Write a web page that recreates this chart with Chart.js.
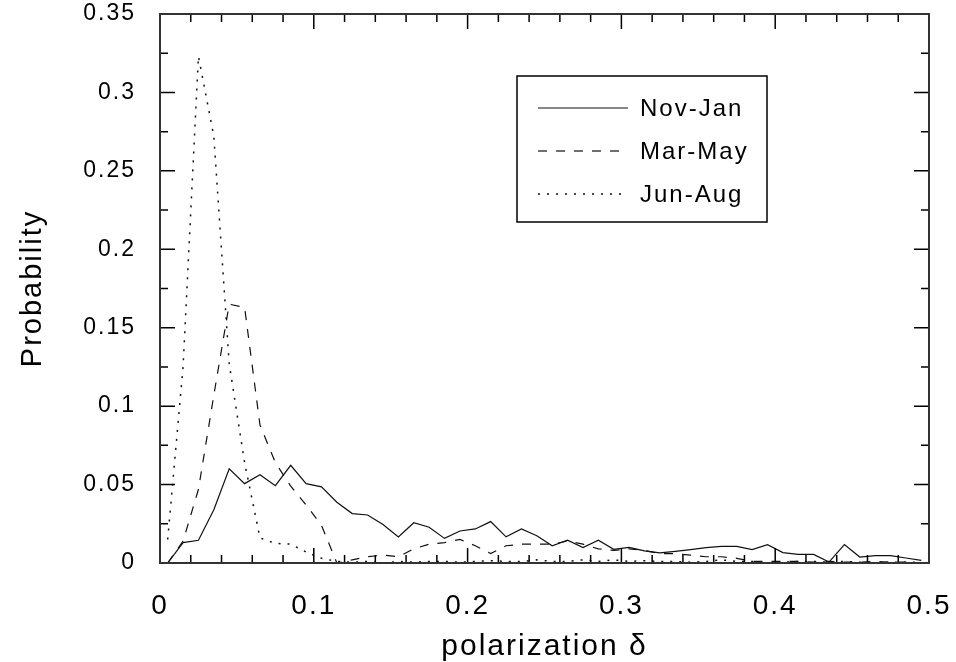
<!DOCTYPE html>
<html>
<head>
<meta charset="utf-8">
<script src="https://cdn.jsdelivr.net/npm/chart.js@4.4.0/dist/chart.umd.min.js"></script>
<style>
  html, body { margin: 0; padding: 0; background: #fff; }
</style>
</head>
<body>
<canvas id="chart" width="956" height="662"></canvas>
<script>
// bin centres of the polarization histogram
const binCenters = [
  0.005, 0.015, 0.025, 0.035, 0.045, 0.055, 0.065, 0.075, 0.085, 0.095,
  0.105, 0.115, 0.125, 0.135, 0.145, 0.155, 0.165, 0.175, 0.185, 0.195,
  0.205, 0.215, 0.225, 0.235, 0.245, 0.255, 0.265, 0.275, 0.285, 0.295,
  0.305, 0.315, 0.325, 0.335, 0.345, 0.355, 0.365, 0.375, 0.385, 0.395,
  0.405, 0.415, 0.425, 0.435, 0.445, 0.455, 0.465, 0.475, 0.485, 0.495
];

const novJan = [
  0, 0.013, 0.0145, 0.034, 0.060, 0.0506, 0.0563, 0.0493, 0.0623, 0.0506,
  0.0485, 0.0387, 0.0315, 0.0306, 0.0245, 0.0166, 0.0257, 0.0228, 0.0157, 0.0204,
  0.0217, 0.0264, 0.0167, 0.0217, 0.0174, 0.011, 0.0145, 0.0098, 0.0145, 0.0087,
  0.010, 0.0077, 0.0064, 0.0074, 0.0085, 0.0098, 0.0106, 0.0106, 0.0085, 0.0117,
  0.0066, 0.0055, 0.0055, 0.0006, 0.0117, 0.0038, 0.0047, 0.0047, 0.0032, 0.0017
];

const marMay = [
  0, 0.014, 0.047, 0.107, 0.165, 0.163, 0.088, 0.064, 0.049, 0.037,
  0.024, 0, 0.002, 0.004, 0.005, 0.004, 0.009, 0.012, 0.013, 0.015,
  0.011, 0.006, 0.011, 0.012, 0.012, 0.012, 0.014, 0.012, 0.009, 0.008,
  0.009, 0.008, 0.006, 0.006, 0.005, 0.004, 0.004, 0.003, 0.001, 0.001,
  0.001, 0.001, 0.0005, 0.001, 0.0005, 0.0005, 0.001, 0.0005, 0.0005, 0
];

const junAug = [
  0.015, 0.125, 0.323, 0.272, 0.127, 0.064, 0.016, 0.0125, 0.012, 0.007,
  0.003, 0.001, 0.0005, 0.001, 0, 0.001, 0.0005, 0.001, 0.001, 0.0005,
  0.001, 0.0015, 0.001, 0.001, 0.002, 0.001, 0.001, 0.002, 0.001, 0.002,
  0.001, 0.0015, 0.001, 0.001, 0.0005, 0.001, 0.002, 0.001, 0.001, 0,
  0.0005, 0.001, 0.001, 0.0005, 0.001, 0.0005, 0, 0.0005, 0.0005, 0.0005
];

const seriesLabels = ['Nov-Jan', 'Mar-May', 'Jun-Aug'];

// tick positions (labels every 0.1 / 0.05, small ticks in between)
const xTicks = [0, 0.02, 0.04, 0.06, 0.08, 0.1, 0.12, 0.14, 0.16, 0.18, 0.2, 0.22, 0.24, 0.26,
  0.28, 0.3, 0.32, 0.34, 0.36, 0.38, 0.4, 0.42, 0.44, 0.46, 0.48, 0.5];
const yTicks = [0, 0.025, 0.05, 0.075, 0.1, 0.125, 0.15, 0.175, 0.2, 0.225, 0.25, 0.275,
  0.3, 0.325, 0.35];

const FONT = "'Liberation Sans', Arial, sans-serif";
const INK = '#111';

function toPoints(values) {
  return binCenters.map((x, i) => ({ x, y: values[i] }));
}

function isMajor(v, step) {
  const r = v / step;
  return Math.abs(r - Math.round(r)) < 1e-6;
}

// Frame and inward ticks on all four sides
const frameTicks = {
  id: 'frameTicks',
  afterDatasetsDraw(chart) {
    const { ctx, chartArea: a, scales: { x, y } } = chart;
    ctx.save();
    ctx.strokeStyle = '#000';
    ctx.lineWidth = 1.5;
    ctx.beginPath();
    xTicks.forEach(v => {
      const px = x.getPixelForValue(v);
      const len = isMajor(v, 0.1) ? 15 : 8;
      ctx.moveTo(px, a.bottom); ctx.lineTo(px, a.bottom - len);
      ctx.moveTo(px, a.top); ctx.lineTo(px, a.top + len);
    });
    yTicks.forEach(v => {
      const py = y.getPixelForValue(v);
      const len = isMajor(v, 0.05) ? 15 : 8;
      ctx.moveTo(a.left, py); ctx.lineTo(a.left + len, py);
      ctx.moveTo(a.right, py); ctx.lineTo(a.right - len, py);
    });
    ctx.stroke();
    ctx.strokeStyle = '#333';
    ctx.lineWidth = 2;
    ctx.strokeRect(a.left, a.top, a.right - a.left, a.bottom - a.top);
    ctx.restore();
  }
};

// Boxed legend with line samples, upper right of the plot
const boxLegend = {
  id: 'boxLegend',
  afterDraw(chart) {
    const { ctx, chartArea: a } = chart;
    const bx = a.left + 357, by = a.top + 62, bw = 250, bh = 146;
    ctx.save();
    ctx.fillStyle = '#fff';
    ctx.fillRect(bx, by, bw, bh);
    ctx.strokeStyle = '#000';
    ctx.lineWidth = 1.5;
    ctx.strokeRect(bx, by, bw, bh);
    ctx.font = '24px ' + FONT;
    ctx.letterSpacing = '2px';
    ctx.textBaseline = 'middle';
    ctx.fillStyle = '#000';
    chart.data.datasets.forEach((ds, i) => {
      const ry = by + 32 + i * 43;
      ctx.beginPath();
      ctx.setLineDash(ds.borderDash || []);
      ctx.lineWidth = ds.borderWidth;
      ctx.strokeStyle = ds.borderColor;
      ctx.moveTo(bx + 21, ry);
      ctx.lineTo(bx + 111, ry);
      ctx.stroke();
      ctx.setLineDash([]);
      ctx.fillText(ds.label, bx + 123, ry + 1);
    });
    ctx.restore();
  }
};

// wider letter spacing for the axis texts, as in the original figure
const spacing = {
  id: 'spacing',
  beforeDraw(chart) { chart.ctx.letterSpacing = '2px'; }
};

new Chart(document.getElementById('chart'), {
  type: 'line',
  data: {
    datasets: [
      {
        label: seriesLabels[0],
        data: toPoints(novJan),
        borderColor: INK,
        borderWidth: 1.2,
        pointRadius: 0,
        tension: 0,
      },
      {
        label: seriesLabels[1],
        data: toPoints(marMay),
        borderColor: INK,
        borderWidth: 1.2,
        borderDash: [9, 9],
        pointRadius: 0,
        tension: 0,
      },
      {
        label: seriesLabels[2],
        data: toPoints(junAug),
        borderColor: INK,
        borderWidth: 1.5,
        borderDash: [2, 7],
        pointRadius: 0,
        tension: 0,
      },
    ],
  },
  options: {
    responsive: false,
    animation: false,
    layout: { padding: { top: 14, right: 27, bottom: 0, left: 0 } },
    plugins: {
      legend: { display: false },
      tooltip: { enabled: false },
    },
    scales: {
      x: {
        type: 'linear',
        min: 0,
        max: 0.5,
        grid: { display: false, drawTicks: false },
        border: { display: false },
        ticks: {
          stepSize: 0.1,
          padding: 26,
          color: '#000',
          font: { family: FONT, size: 28 },
          callback: v => String(Number(v.toFixed(2))),
        },
        title: {
          display: true,
          text: 'polarization δ',
          color: '#000',
          font: { family: FONT, size: 30, lineHeight: 1.05 },
          padding: { top: 0, bottom: 0 },
        },
        afterFit(scale) {
          scale.height = 99;
          scale.paddingLeft = 0;
          scale.paddingRight = 0;
        },
      },
      y: {
        min: 0,
        max: 0.35,
        grid: { display: false, drawTicks: false },
        border: { display: false },
        ticks: {
          stepSize: 0.05,
          padding: 24,
          color: '#000',
          font: { family: FONT, size: 23 },
          callback: v => String(Number(v.toFixed(3))),
        },
        title: {
          display: true,
          text: 'Probability',
          color: '#000',
          font: { family: FONT, size: 29 },
          padding: { top: 16, bottom: 0 },
        },
        afterFit(scale) {
          scale.width = 160;
          scale.paddingTop = 0;
          scale.paddingBottom = 0;
        },
      },
    },
  },
  plugins: [spacing, frameTicks, boxLegend],
});
</script>
</body>
</html>
